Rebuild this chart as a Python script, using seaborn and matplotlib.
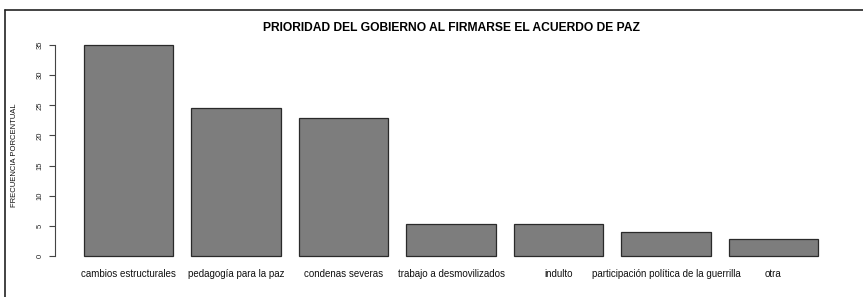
import matplotlib
matplotlib.use("Agg")
import matplotlib.pyplot as plt
import seaborn as sns
import pandas as pd
from matplotlib.lines import Line2D

categorias = ["cambios estructurales", "pedagogía para la paz", "condenas severas",
              "trabajo a desmovilizados", "indulto", "participación política de la guerrilla", "otra"]
frecuencia = [35.0, 24.5, 22.9, 5.3, 5.3, 4.0, 2.9]
yticks = [0, 5, 10, 15, 20, 25, 30, 35]
titulo = "PRIORIDAD DEL GOBIERNO AL FIRMARSE EL ACUERDO DE PAZ"
ylabel = "FRECUENCIA PORCENTUAL"

sns.set_style("white")
plt.rcParams['font.family'] = ['Liberation Sans', 'DejaVu Sans']
plt.rcParams['text.color'] = 'black'
plt.rcParams['xtick.color'] = 'black'
plt.rcParams['ytick.color'] = 'black'

df = pd.DataFrame({"cat": categorias, "val": frecuencia})

W, H = 863, 297
fig = plt.figure(figsize=(W / 100, H / 100), dpi=100)
ax = fig.add_axes([54.5 / W, 1 - 264.5 / H, (847.5 - 54.5) / W, (264.5 - 36.6) / H])

sns.barplot(data=df, x="cat", y="val", color="#7d7d7d", saturation=1, width=1 / 1.2,
            edgecolor="#2a2a2a", linewidth=0.9, ax=ax)

ax.set_xlim(-0.5 / 1.2 - 0.04 * (6 + 1 / 1.2), 6 + 0.5 / 1.2 + 0.04 * (6 + 1 / 1.2))
ax.set_ylim(-0.04 * 35, 35 * 1.04)
for s in ["top", "right", "bottom"]:
    ax.spines[s].set_visible(False)
ax.spines["left"].set_bounds(0, 35)
ax.spines["left"].set_color("#444444")
ax.spines["left"].set_linewidth(0.8)
ax.set_yticks(yticks)
ax.set_yticklabels([str(v) for v in yticks], rotation=90, va="center", fontsize=5.5)
ax.tick_params(axis="y", left=True, length=4, width=0.8, color="#444444", labelcolor="#222222", pad=4)
ax.tick_params(axis="x", bottom=False, length=0, pad=3, labelsize=7, labelcolor="#111111")
ax.set_xlabel("")
ax.set_ylabel("")
ax.grid(False)

fig.text(15 / W, 1 - 155 / H, ylabel, rotation=90, ha="center", va="center", fontsize=5.5, color="#111111")
fig.text(451 / W, 1 - 28 / H, titulo, ha="center", va="center", fontsize=8.7, fontweight="bold", color="black")

# frame lines (top and left)
fig.add_artist(Line2D([4.5 / W, 1], [1 - 10 / H, 1 - 10 / H], color="#222222", lw=1.2, transform=fig.transFigure))
fig.add_artist(Line2D([4.5 / W, 4.5 / W], [0, 1 - 10 / H], color="#222222", lw=1.2, transform=fig.transFigure))

fig.savefig("out.png", dpi=100)
